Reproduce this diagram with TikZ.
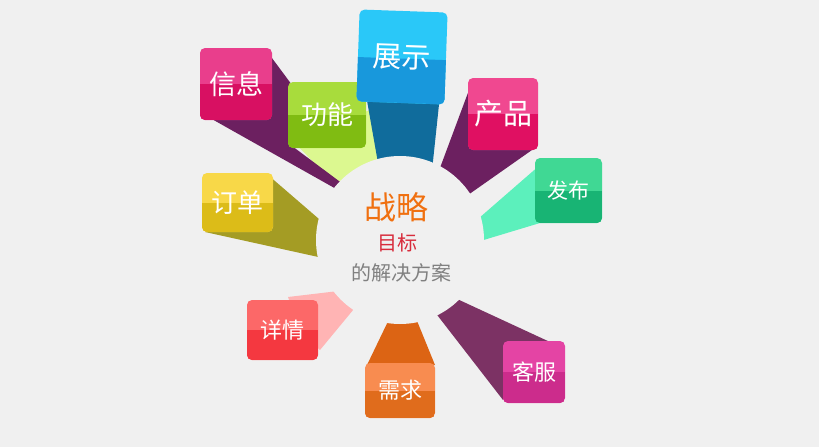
\documentclass[tikz,border=0pt]{standalone}
\usepackage{fontspec}
\newfontfamily\cjk{Noto Sans CJK SC}
\definecolor{bg}{HTML}{F0F0F0}
\definecolor{xinxiA}{HTML}{E93E8C}\definecolor{xinxiB}{HTML}{D81062}\definecolor{xinxiS}{HTML}{6C2060}
\definecolor{gongnengA}{HTML}{A8DC3C}\definecolor{gongnengB}{HTML}{80BC12}\definecolor{gongnengS}{HTML}{DCF890}
\definecolor{zhanshiA}{HTML}{2AC8F8}\definecolor{zhanshiB}{HTML}{1898DC}\definecolor{zhanshiS}{HTML}{106C9C}
\definecolor{chanpinA}{HTML}{F04890}\definecolor{chanpinB}{HTML}{E01062}\definecolor{chanpinS}{HTML}{6C2060}
\definecolor{fabuA}{HTML}{40D894}\definecolor{fabuB}{HTML}{18B474}\definecolor{fabuS}{HTML}{5CF0BC}
\definecolor{dingdanA}{HTML}{F8D848}\definecolor{dingdanB}{HTML}{DCBC18}\definecolor{dingdanS}{HTML}{A49C24}
\definecolor{xiangqingA}{HTML}{FC6868}\definecolor{xiangqingB}{HTML}{F43840}\definecolor{xiangqingS}{HTML}{FFB4B4}
\definecolor{xuqiuA}{HTML}{F88C50}\definecolor{xuqiuB}{HTML}{E06C1C}\definecolor{xuqiuS}{HTML}{DC6414}
\definecolor{kefuA}{HTML}{E444A4}\definecolor{kefuB}{HTML}{CC2C8C}\definecolor{kefuS}{HTML}{7C3264}
\definecolor{zhanlue}{HTML}{F07010}
\definecolor{mubiao}{HTML}{D82C3C}
\definecolor{fangan}{HTML}{808080}
\tikzset{
  tile/.style 2 args={rounded corners=5pt, fill=#1, text=white, inner sep=0pt,
    path picture={\fill[#2, sharp corners] (path picture bounding box.west) rectangle (path picture bounding box.south east);}},
  cn/.style={font=\cjk\fontsize{#1}{#1}\selectfont}
}
\begin{document}
\begin{tikzpicture}[x=1pt,y=-1pt]
	\fill[bg] (0,0) rectangle (819,447);
	\useasboundingbox (0,0) rectangle (819,447);
	% shadows
	\fill[gongnengS] (292,140)--(370,110)--(383,185)--(350,200)--cycle;
	\fill[zhanshiS] (366,95)--(440,95)--(431,180)--(381,180)--cycle;
	\fill[xinxiS] (266,50)--(292,85)--(292,146)--(355,193)--(354,199)--(210,118)--cycle;
	\fill[chanpinS] (472,82)--(434,184)--(458,202)--(532,150)--cycle;
	\fill[fabuS] (540,165)--(463,232)--(467,245)--(540,223)--cycle;
	\fill[dingdanS] (268,175)--(341,238)--(341,262)--(205,232)--cycle;
	\fill[xiangqingS] (288,297)--(347,290)--(363,298)--(320,350)--(300,330)--cycle;
	\fill[xuqiuS] (367,365)--(393,311)--(413,311)--(435,365)--cycle;
	\fill[kefuS] (550,342)--(442,292)--(424,298)--(503,400)--(530,370)--cycle;
	\coordinate (hub) at (400,240);
	\fill[bg] (hub) circle (84pt);
	% tiles
	\node[tile={xinxiA}{xinxiB}, cn=27, minimum width=72pt, minimum height=72pt] (xinxi) at (236,84) {信息};
	\node[tile={gongnengA}{gongnengB}, cn=26, minimum width=78pt, minimum height=66pt] (gongneng) at (327,115) {功能};
	\node[tile={zhanshiA}{zhanshiB}, cn=29, minimum width=88pt, minimum height=92pt, rotate=-2] (zhanshi) at (402,57) {展示};
	\node[tile={chanpinA}{chanpinB}, cn=29, minimum width=70pt, minimum height=72pt] (chanpin) at (503,114) {产品};
	\node[tile={fabuA}{fabuB}, cn=21, minimum width=67pt, minimum height=65pt] (fabu) at (568.5,190.5) {发布};
	\node[tile={dingdanA}{dingdanB}, cn=26, minimum width=71pt, minimum height=59pt] (dingdan) at (237.5,202.5) {订单};
	\node[tile={xiangqingA}{xiangqingB}, cn=22, minimum width=71pt, minimum height=60pt] (xiangqing) at (282.5,330) {详情};
	\node[tile={xuqiuA}{xuqiuB}, cn=22, minimum width=70pt, minimum height=55pt] (xuqiu) at (400,390.5) {需求};
	\node[tile={kefuA}{kefuB}, cn=22, minimum width=62pt, minimum height=62pt] (kefu) at (534,372) {客服};
	% centre text
	\node[cn=32, text=zhanlue] (goal) at (396,207) {战略};
	\node[cn=20, text=mubiao] (target) at (397,243) {目标};
	\node[cn=20, text=fangan] (plan) at (401,273) {的解决方案};
\end{tikzpicture}
\end{document}
